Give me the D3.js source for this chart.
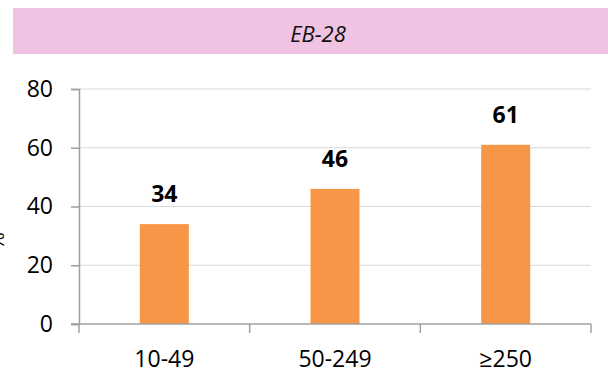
<!DOCTYPE html>
<html>
<head>
<meta charset="utf-8">
<script src="https://cdn.jsdelivr.net/npm/d3@7"></script>
<style>
  html, body { margin: 0; padding: 0; background: #fff; }
  svg { display: block; }
  text { font-family: "Open Sans", "Liberation Sans", Arial, sans-serif; }
</style>
</head>
<body>
<script>
const title = "EB-28";
const categories = ["10-49", "50-249", "≥250"];
const values = [34, 46, 61];
const yTicks = [0, 20, 40, 60, 80];
const yAxisTitle = "%";

const W = 608, H = 369;
const FONT = "'Open Sans', 'Liberation Sans', Arial, sans-serif";
const svg = d3.select("body").append("svg").attr("width", W).attr("height", H);

// title band
svg.append("rect").attr("x", 13).attr("y", 8).attr("width", W - 13).attr("height", 46).attr("fill", "#f0c3e2");
svg.append("text").attr("x", 318).attr("y", 42).attr("text-anchor", "middle")
  .style("font-style", "italic").style("font-size", "22px").attr("fill", "#111").text(title);

const x = d3.scaleBand().domain(categories).range([79, 591]).paddingInner(0.713).paddingOuter(0.3565);
const y = d3.scaleLinear().domain([0, 80]).range([324, 89]);

// gridlines
svg.append("g").selectAll("line").data(yTicks.filter(d => d > 0)).join("line")
  .attr("x1", 79).attr("x2", 591).attr("y1", d => y(d)).attr("y2", d => y(d))
  .attr("stroke", "#d9d9d9").attr("stroke-width", 1.2);

// bars
svg.append("g").selectAll("rect").data(values).join("rect")
  .attr("x", (d, i) => x(categories[i])).attr("width", x.bandwidth())
  .attr("y", d => y(d)).attr("height", d => y(0) - y(d))
  .attr("fill", "#f79646");

// value labels
svg.append("g").selectAll("text").data(values).join("text")
  .attr("x", (d, i) => x(categories[i]) + x.bandwidth() / 2)
  .attr("y", d => y(d) - 22)
  .attr("text-anchor", "middle").style("font-weight", "bold").style("font-size", "23px")
  .attr("fill", "#000").text(d => d);

// y axis
const yAxis = d3.axisLeft(y).tickValues(yTicks).tickSize(8).tickPadding(18).tickFormat(d3.format("d"));
const gy = svg.append("g").attr("transform", "translate(79,0)").call(yAxis);
gy.select(".domain").attr("stroke", "#9f9f9f").attr("stroke-width", 1.5);
gy.selectAll(".tick line").attr("stroke", "#9f9f9f").attr("stroke-width", 1.5);
gy.selectAll(".tick text").style("font-size", "23px").attr("fill", "#000").style("font-family", FONT);

// x axis
const xAxis = d3.axisBottom(x).tickSize(0).tickPadding(27);
const gx = svg.append("g").attr("transform", "translate(0,324)").call(xAxis);
gx.select(".domain").remove();
gx.selectAll(".tick text").style("font-size", "23px").attr("fill", "#000").style("font-family", FONT);
svg.append("line").attr("x1", 71).attr("x2", 591).attr("y1", 324).attr("y2", 324)
  .attr("stroke", "#9f9f9f").attr("stroke-width", 1.5);
// category boundary ticks
const bounds = [79].concat(categories.map(c => x(c) + x.bandwidth() / 2 + x.step() / 2));
svg.append("g").selectAll("line").data(bounds).join("line")
  .attr("x1", d => d).attr("x2", d => d).attr("y1", 324).attr("y2", 333)
  .attr("stroke", "#9f9f9f").attr("stroke-width", 1.5);

// y axis title (clipped at left edge)
svg.append("text").attr("transform", "translate(4,241) rotate(-90)")
  .attr("text-anchor", "middle").style("font-size", "22px").attr("fill", "#000").text(yAxisTitle);
</script>
</body>
</html>
